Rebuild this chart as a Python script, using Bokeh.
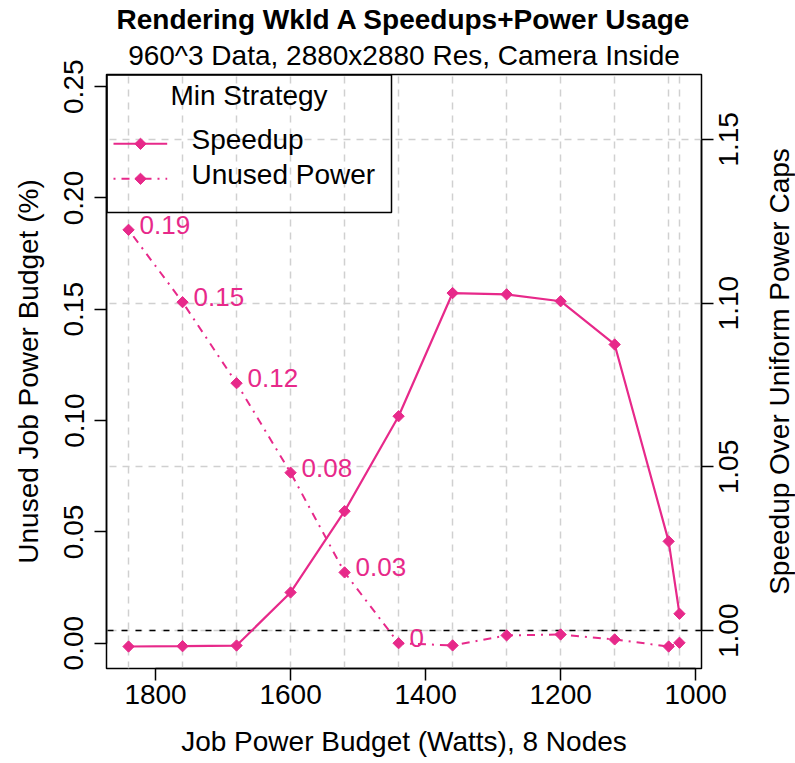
import numpy as np
from bokeh.plotting import figure
from bokeh.models import (Range1d, LinearAxis, FixedTicker, PrintfTickFormatter,
                          CustomJSTickFormatter, Grid, BoxAnnotation, Label, Title,
                          ColumnDataSource)
from bokeh.core.properties import value
from bokeh.embed import file_html
from bokeh.resources import INLINE

# ---------------- data ----------------
budget = [1840, 1760, 1680, 1600, 1520, 1440, 1360, 1280, 1200, 1120, 1040, 1024]
speedup = [0.9952, 0.9953, 0.9955, 1.0117, 1.0365, 1.0655, 1.1031, 1.1027, 1.1006, 1.0874, 1.0273, 1.0052]
unused = [0.1857, 0.1532, 0.1168, 0.0766, 0.0318, 0.0, -0.0010, 0.0035, 0.0039, 0.0017, -0.0015, 0.0002]
labeled_budgets = [1840, 1760, 1680, 1600, 1520, 1440]
x_ticks = [1800, 1600, 1400, 1200, 1000]
left_ticks = [0.00, 0.05, 0.10, 0.15, 0.20, 0.25]
right_ticks = [1.00, 1.05, 1.10, 1.15]
baseline_speedup = [1.0]
title_text = "Rendering Wkld A Speedups+Power Usage"
subtitle_text = "960^3 Data, 2880x2880 Res, Camera Inside"
legend_title = "Min Strategy"
series_names = ["Speedup", "Unused Power"]
x_label = "Job Power Budget (Watts), 8 Nodes"
y_label = "Unused Job Power Budget (%)"
y2_label = "Speedup Over Uniform Power Caps"

# ---------------- style ----------------
PINK = "#E7298A"
FONT = "Liberation Sans"
FS_PX = 28
FS = "%dpx" % FS_PX
GRID = "#D0D0D0"
W, H = 795, 763
FRAME_W, FRAME_H = 595, 594
X0, X1 = 1872.64, 991.36
Y0, Y1 = -0.01137, 0.25548
S0, S1 = 0.98849, 1.16981
DASHDOT = "2 6 8 6"
# Liberation Sans advance widths (em) used to centre upward-reading tick texts
EM = {"0": .556, "1": .556, "5": .556, ".": .278}

p = figure(width=W, height=H, output_backend="svg", toolbar_location=None,
           title=None, x_range=Range1d(X0, X1), y_range=Range1d(Y0, Y1),
           min_border_left=106, min_border_right=94, min_border_top=74,
           min_border_bottom=95, background_fill_color="white",
           border_fill_color="white")
p.extra_y_ranges = {"speed": Range1d(S0, S1)}
p.outline_line_color = "black"
p.outline_line_width = 1.5

# grids
p.ygrid.visible = False
p.xgrid.ticker = FixedTicker(ticks=budget)
p.xgrid.grid_line_color = GRID
p.xgrid.grid_line_dash = "7 6"
p.xgrid.grid_line_width = 1.5
hgrid = Grid(dimension=1, ticker=FixedTicker(ticks=right_ticks), y_range_name="speed",
             grid_line_color=GRID, grid_line_dash="7 6", grid_line_width=1.5)
p.add_layout(hgrid)
base = Grid(dimension=1, ticker=FixedTicker(ticks=baseline_speedup), y_range_name="speed",
            grid_line_color="black", grid_line_dash="6 8", grid_line_width=1.5)
p.add_layout(base)


def style_axis(ax):
    ax.axis_line_color = "black"
    ax.axis_line_width = 1.5
    ax.major_tick_line_color = "black"
    ax.major_tick_line_width = 1.5
    ax.major_tick_in = 0
    ax.major_tick_out = 12
    ax.minor_tick_line_color = None
    ax.major_label_text_font = FONT
    ax.major_label_text_font_size = FS
    ax.major_label_text_color = "black"
    ax.axis_label_text_font = FONT
    ax.axis_label_text_font_size = FS
    ax.axis_label_text_font_style = "normal"
    ax.axis_label_text_color = "black"


xa = p.xaxis[0]
xa.ticker = FixedTicker(ticks=x_ticks)
xa.bounds = (min(x_ticks), max(x_ticks))
style_axis(xa)
xa.major_label_standoff = 4
xa.axis_label = x_label
xa.axis_label_standoff = 19

ya = p.yaxis[0]
ya.ticker = FixedTicker(ticks=left_ticks)
ya.formatter = PrintfTickFormatter(format="%.2f")
ya.bounds = (min(left_ticks), max(left_ticks))
style_axis(ya)
ya.major_label_orientation = "vertical"
ya.major_label_standoff = 11
ya.axis_label = y_label
ya.axis_label_standoff = 18

# right side: tick marks on one axis, upward-reading labels on a second one
ra = LinearAxis(y_range_name="speed", ticker=FixedTicker(ticks=right_ticks),
                formatter=CustomJSTickFormatter(code="return '';"),
                bounds=(min(right_ticks), max(right_ticks)))
style_axis(ra)
ra.major_label_text_font_size = "0px"
ra.major_label_standoff = 0
p.add_layout(ra, "right")

px_to_speed = (S1 - S0) / FRAME_H
half_label = 0.5 * FS_PX * sum(EM[c] for c in "1.15") * px_to_speed
rb = LinearAxis(y_range_name="speed",
                ticker=FixedTicker(ticks=[t - half_label for t in right_ticks]),
                formatter=CustomJSTickFormatter(
                    code="return (tick + %.8f).toFixed(2);" % half_label))
style_axis(rb)
rb.axis_line_color = None
rb.major_tick_line_color = None
rb.major_tick_out = 0
rb.major_label_orientation = np.pi / 2
rb.major_label_standoff = 15
p.add_layout(rb, "right")

# titles (first added sits closest to the frame)
p.add_layout(Title(text=subtitle_text, align="center", text_font=FONT, text_font_size=FS,
                   text_font_style="normal", text_color="black", standoff=8), "above")
p.add_layout(Title(text=title_text, align="center", text_font=FONT, text_font_size=FS,
                   text_font_style="bold", text_color="black", standoff=-3), "above")


# helpers converting frame pixel offsets into data coordinates (decorations)
def fx(px):
    return X0 + px * (X1 - X0) / FRAME_W


def fy(py):
    return Y1 - py * (Y1 - Y0) / FRAME_H


# right-hand axis title, laid out in the right panel so it is not clipped
p.add_layout(Label(x=fx(673), y=fy(FRAME_H / 2), text=y2_label, angle=np.pi / 2,
                   text_align="center", text_baseline="middle", text_font=FONT,
                   text_font_size=FS, text_color="black"), "right")

# ---------------- series ----------------
src = ColumnDataSource(dict(x=budget, s=speedup, u=unused))
p.line("x", "u", source=src, line_color=PINK, line_width=2, line_dash=DASHDOT)
p.scatter("x", "u", source=src, marker="square", size=8, angle=np.pi / 4,
          fill_color=PINK, line_color=PINK)
p.line("x", "s", source=src, line_color=PINK, line_width=2.2, y_range_name="speed")
p.scatter("x", "s", source=src, marker="square", size=8, angle=np.pi / 4,
          fill_color=PINK, line_color=PINK, y_range_name="speed")

lab_x = [b for b in budget if b in labeled_budgets]
lab_y = [u for b, u in zip(budget, unused) if b in labeled_budgets]
lab_t = ["%g" % round(u, 2) for u in lab_y]
p.text(x=lab_x, y=lab_y, text=lab_t, x_offset=11, y_offset=-5,
       text_baseline="middle", text_align="left", text_font=value(FONT),
       text_font_size="26px", text_color=PINK)

# ---------------- legend (drawn at the frame's top-left corner) ----------------
p.add_layout(BoxAnnotation(left=fx(0.5), right=fx(285), top=fy(0.5), bottom=fy(138),
                           fill_alpha=0, line_color="black", line_alpha=1.0,
                           line_width=1.5))
p.add_layout(Label(x=fx(142.5), y=fy(20.7), text=legend_title, text_align="center",
                   text_baseline="middle", text_font=FONT, text_font_size=FS,
                   text_color="black"))
rows = [69.3, 104.3]
dashes = ["solid", DASHDOT]
for name, ry, dash in zip(series_names, rows, dashes):
    p.line([fx(7), fx(60.7)], [fy(ry), fy(ry)], line_color=PINK, line_width=2,
           line_dash=dash)
    p.scatter([fx(34)], [fy(ry)], marker="square", size=8, angle=np.pi / 4,
              fill_color=PINK, line_color=PINK)
    p.add_layout(Label(x=fx(85), y=fy(ry - 4.8), text=name, text_align="left",
                       text_baseline="middle", text_font=FONT, text_font_size=FS,
                       text_color="black"))

open("out.html", "w").write(file_html(p, INLINE))
